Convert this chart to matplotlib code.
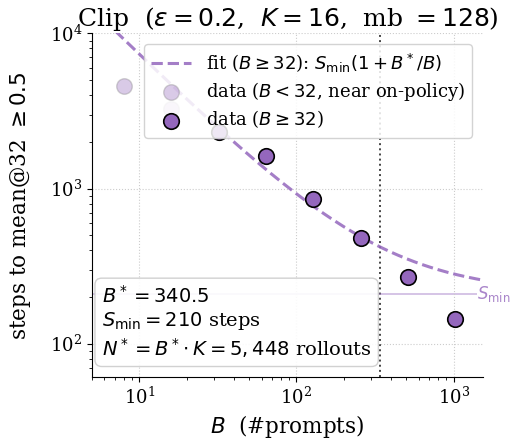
import numpy as np
import matplotlib
matplotlib.use("Agg")
import matplotlib.pyplot as plt

plt.rcParams['font.family'] = ['DejaVu Serif']
plt.rcParams['mathtext.fontset'] = 'dejavusans'

B_small = [8, 16]
S_small = [4550, 3240]
B_data = [32, 64, 128, 256, 512, 1024]
S_data = [2300, 1610, 860, 483, 270, 145]
B_star = 340.5
S_min = 210
K = 16

fig = plt.figure(figsize=(5.11, 4.46), dpi=100)
ax = fig.add_axes([0.18, 0.155, 0.765, 0.77])
purple = '#9467bd'

Bfit = np.logspace(np.log10(5), np.log10(1536), 200)
ax.plot(Bfit, S_min * (1 + B_star / Bfit), '--', color=purple, alpha=0.85, lw=2.2,
        label=r'fit ($B\geq 32$): $S_{\min}(1+B^*/B)$', zorder=2)
ax.scatter(B_small, S_small, s=125, color=purple, alpha=0.35, edgecolor='gray',
           lw=1.0, label=r'data ($B<32$, near on-policy)', zorder=3)
ax.scatter(B_data, S_data, s=125, color=purple, edgecolor='black', lw=1.2,
           label=r'data ($B\geq 32$)', zorder=4)
ax.axvline(B_star, color='#444444', ls=':', lw=1.4, zorder=1)
ax.hlines(S_min, 5, 1400, color=purple, alpha=0.45, lw=1.2, zorder=1)
ax.text(1400, S_min, r'$S_{\min}$', color=purple, alpha=0.8, fontsize=12,
        ha='left', va='center', clip_on=False)

ax.set_xscale('log')
ax.set_yscale('log')
ax.set_xlim(5, 1536)
ax.set_ylim(61, 1e4)
ax.grid(True, which='major', ls=':', color='#cccccc', lw=0.8)
ax.spines['top'].set_visible(False)
ax.spines['right'].set_visible(False)
ax.tick_params(labelsize=13)

ax.set_title(r'Clip  ($\epsilon=0.2$,  $K=16$,  mb $=128$)', fontsize=18, pad=3)
ax.set_xlabel(r'$B$  (#prompts)', fontsize=15.5)
ax.set_ylabel(r'steps to mean@32 $\geq 0.5$', fontsize=15.5, labelpad=12)

ax.legend(loc='upper right', fontsize=13, framealpha=0.85, borderaxespad=0.6,
          handlelength=2.2, labelspacing=0.3)

txt = (r'$B^*=%.1f$' % B_star + '\n' + r'$S_{\min}=%d$ steps' % S_min + '\n'
       + r'$N^*=B^*\!\cdot K=5,448$ rollouts')
ax.text(0.025, 0.05, txt, transform=ax.transAxes, fontsize=14, va='bottom', ha='left',
        linespacing=1.2,
        bbox=dict(boxstyle='round,pad=0.35', fc='white', ec='#cccccc', alpha=0.9))

fig.savefig('out.png', dpi=100)
